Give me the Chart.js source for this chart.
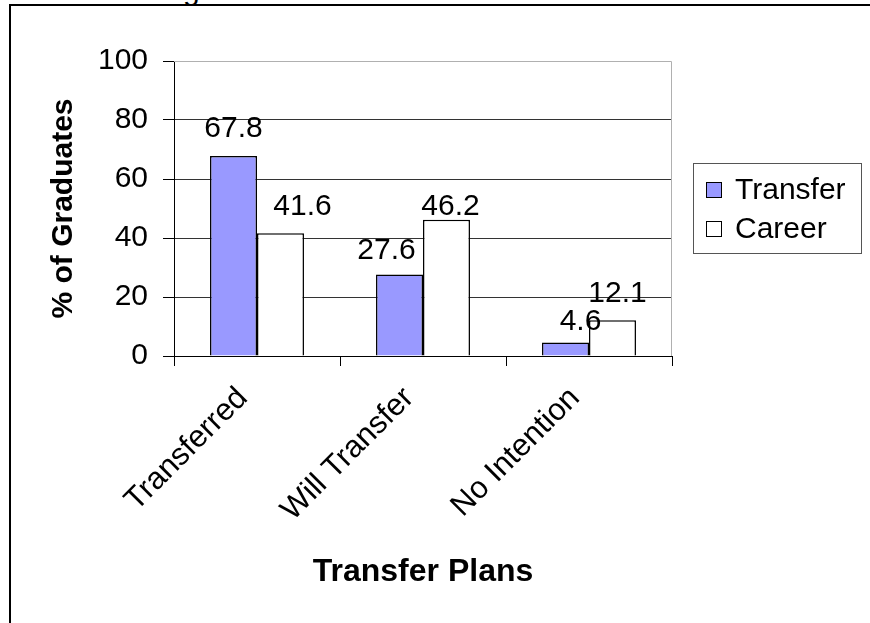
<!doctype html>
<html lang="en">
<head>
<meta charset="utf-8">
<title>Transfer Plans</title>
<script src="https://cdn.jsdelivr.net/npm/chart.js@4/dist/chart.umd.min.js"></script>
<style>
	html, body { margin:0; padding:0; background:#fff; }
	#wrap { position:relative; width:870px; height:623px; overflow:hidden; }
	#frame { position:absolute; left:9px; top:4px; width:900px; height:700px; border-left:2px solid #000; border-top:2px solid #000; }
	#cut { position:absolute; left:183px; top:-27px; font:30px Arial, "Liberation Sans", sans-serif; }
	canvas { position:absolute; left:0; top:0; }
</style>
</head>
<body>
<div id="wrap">
	<div id="frame"></div>
	<div id="cut">g</div>
	<canvas id="myChart" width="870" height="623"></canvas>
</div>
<script>
// data
var categories = ["Transferred", "Will Transfer", "No Intention"];
var transfer = [67.8, 27.6, 4.6];
var career = [41.6, 46.2, 12.1];
var seriesNames = ["Transfer", "Career"];
var yTicks = [0, 20, 40, 60, 80, 100];

var FONT = "Arial, 'Liberation Sans', sans-serif";

// value labels above each bar (labels were nudged by hand in the original)
var labelNudge = [
	[[0, -29], [-13, -26], [15, -23]],
	[[22, -29], [4, -15], [5, -29]]
];
var valueLabels = {
	id: "valueLabels",
	afterDatasetsDraw: function(chart) {
		var ctx = chart.ctx;
		ctx.save();
		ctx.font = "30px " + FONT;
		ctx.fillStyle = "#000";
		ctx.textAlign = "center";
		ctx.textBaseline = "alphabetic";
		chart.data.datasets.forEach(function(ds, i) {
			chart.getDatasetMeta(i).data.forEach(function(bar, j) {
				var n = labelNudge[i][j];
				ctx.fillText(ds.data[j].toFixed(1), bar.x + n[0], bar.y + n[1] + 10.5);
			});
		});
		ctx.restore();
	}
};

// grey plot border (top / right) and boxed legend
var extras = {
	id: "extras",
	beforeDatasetsDraw: function(chart) {
		var a = chart.chartArea, ctx = chart.ctx;
		ctx.save();
		ctx.strokeStyle = "#b0b0b0";
		ctx.lineWidth = 1;
		ctx.beginPath();
		ctx.moveTo(a.left, a.top + 0.5);
		ctx.lineTo(a.right - 0.5, a.top + 0.5);
		ctx.lineTo(a.right - 0.5, a.bottom);
		ctx.stroke();
		ctx.restore();
	},
	afterDraw: function(chart) {
		var ctx = chart.ctx;
		ctx.save();
		ctx.strokeStyle = "#555";
		ctx.lineWidth = 1;
		ctx.strokeRect(693.5, 163.5, 168, 90);
		ctx.font = "30px " + FONT;
		ctx.textBaseline = "middle";
		ctx.textAlign = "left";
		chart.data.datasets.forEach(function(ds, i) {
			var y = 190 + i * 39;
			ctx.fillStyle = ds.backgroundColor;
			ctx.fillRect(706, y - 8, 16, 16);
			ctx.strokeStyle = "#000";
			ctx.strokeRect(706.5, y - 7.5, 15, 15);
			ctx.fillStyle = "#000";
			ctx.fillText(ds.label, 735, y + 1);
		});
		ctx.restore();
	}
};

new Chart(document.getElementById("myChart"), {
	type: "bar",
	data: {
		labels: categories,
		datasets: [
			{ label: seriesNames[0], data: transfer, backgroundColor: "#9999ff", borderColor: "#000", borderWidth: 1.5 },
			{ label: seriesNames[1], data: career, backgroundColor: "#ffffff", borderColor: "#000", borderWidth: 1.5 }
		]
	},
	options: {
		responsive: false,
		animation: false,
		devicePixelRatio: 1,
		layout: { padding: { left: 42, top: 61, right: 198, bottom: 28 } },
		datasets: { bar: { categoryPercentage: 0.566, barPercentage: 1 } },
		plugins: { legend: { display: false }, tooltip: { enabled: false } },
		scales: {
			x: {
				afterFit: function(s) { s.height = 239; },
				grid: { offset: true, drawOnChartArea: false, color: "#000", tickLength: 10 },
				border: { color: "#000", width: 1 },
				ticks: { color: "#000", font: { family: FONT, size: 31 }, maxRotation: 45, minRotation: 45, padding: 14, labelOffset: -14 },
				title: { display: true, text: "Transfer Plans", color: "#000", font: { family: FONT, size: 32, weight: "bold" } }
			},
			y: {
				min: 0, max: 100,
				afterFit: function(s) { s.width = 132; },
				afterBuildTicks: function(s) { s.ticks = yTicks.map(function(v) { return { value: v }; }); },
				grid: {
					color: function(c) { return c.tick && c.tick.value === 100 ? "rgba(0,0,0,0)" : "#333"; },
					tickColor: "#000", tickLength: 11
				},
				border: { color: "#000", width: 1 },
				ticks: { color: "#000", font: { family: FONT, size: 30 }, padding: 15 },
				title: { display: true, text: "% of Graduates", color: "#000", font: { family: FONT, size: 30, weight: "bold" } }
			}
		}
	},
	plugins: [valueLabels, extras]
});
</script>
</body>
</html>
